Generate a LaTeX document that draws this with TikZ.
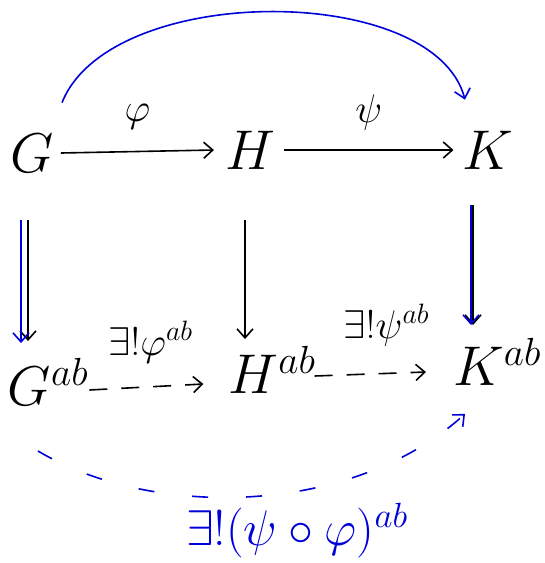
\RequirePackage{fix-cm}
\documentclass[tikz,border=0pt]{standalone}
\usetikzlibrary{arrows.meta}
\begin{document}
\begin{tikzpicture}[x=1pt,y=-1pt,
  obj/.style={inner sep=3pt,font=\fontsize{56}{60}\selectfont},
  lab/.style={font=\fontsize{40}{44}\selectfont},
  arr/.style={line width=1.6pt,-{Straight Barb[length=9pt,width=16pt]}},
  darr/.style={arr,dash pattern=on 18pt off 14pt},
  barr/.style={arr,blue!85!black},
  bdarr/.style={barr,dash pattern=on 16pt off 38pt}]
\useasboundingbox (0,0) rectangle (545,563);
\node[obj] (G) at (32,153) {$G$};
\node[obj] (H) at (250,150) {$H$};
\node[obj] (K) at (488,150) {$K$};
\node[obj] (Gab) at (48,382) {$G^{ab}$};
\node[obj] (Hab) at (272,370) {$H^{ab}$};
\node[obj] (Kab) at (497,362) {$K^{ab}$};
\draw[arr] ([xshift=4pt]G.east) -- node[lab,above=18pt]{$\varphi$} ([xshift=-8pt]H.west);
\draw[arr] ([xshift=6pt]H.east) -- node[lab,above=16pt]{$\psi$} ([xshift=-6pt]K.west);
\draw[barr] ([xshift=30pt,yshift=28pt]G.north) .. controls (110,-18) and (434,-18) .. ([xshift=-23pt,yshift=28pt]K.north);
\draw[arr] ([xshift=-4pt,yshift=-45pt]G.south) -- ([xshift=-4pt,yshift=14pt]G.south |- Gab.north);
\draw[barr] ([xshift=-11pt,yshift=-45pt]G.south) -- ([xshift=-11pt,yshift=12pt]G.south |- Gab.north);
\draw[arr] ([xshift=-5pt,yshift=-48pt]H.south) -- ([xshift=-5pt,yshift=4pt]H.south |- Hab.north);
\draw[arr] ([xshift=-15pt,yshift=-33pt]K.south) -- ([xshift=-15pt,yshift=10pt]K.south |- Kab.north);
\draw[barr] ([xshift=-17pt,yshift=-33pt]K.south) -- ([xshift=-17pt,yshift=10pt]K.south |- Kab.north);
\draw[darr] ([xshift=-2pt,yshift=-8pt]Gab.east) -- node[lab,above=20pt,xshift=4pt]{$\exists!\varphi^{ab}$} ([xshift=-22pt,yshift=-14pt]Hab.west);
\draw[darr] ([xshift=-4pt,yshift=-6pt]Hab.east) -- node[lab,above=24pt,xshift=16pt]{$\exists!\psi^{ab}$} ([xshift=-24pt,yshift=-10pt]Kab.west);
\draw[bdarr] ([xshift=-10pt,yshift=-42pt]Gab.south) .. controls (150,518) and (349,518) .. ([xshift=-32pt,yshift=-25pt]Kab.south)
  node[pos=0.6,below=8pt,font=\fontsize{50}{54}\selectfont,text=blue!85!black] {$\exists!(\psi\circ\varphi)^{ab}$};
\end{tikzpicture}
\end{document}
